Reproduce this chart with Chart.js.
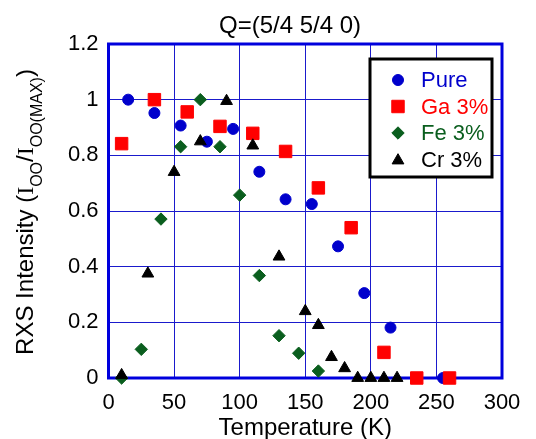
<!DOCTYPE html>
<html>
<head>
<meta charset="utf-8">
<script src="https://cdn.jsdelivr.net/npm/chart.js@4.4.1/dist/chart.umd.min.js"></script>
<style>
  html, body { margin: 0; padding: 0; background: #fff; }
  #wrap { width: 536px; height: 439px; }
</style>
</head>
<body>
<div id="wrap"><canvas id="rxs" width="536" height="439"></canvas></div>
<script>
// temperatures (K) and normalised RXS intensity
const pureT = [15, 35, 55, 75, 95, 115, 135, 155, 175, 195, 215, 255];
const pureI = [1.0, 0.952, 0.907, 0.849, 0.895, 0.741, 0.642, 0.625, 0.473, 0.305, 0.181, 0.0];

const gaT = [10, 35, 60, 85, 110, 135, 160, 185, 210, 235, 260];
const gaI = [0.842, 1.0, 0.956, 0.904, 0.879, 0.814, 0.683, 0.540, 0.092, 0.0, 0.0];

const feT = [10, 25, 40, 55, 70, 85, 100, 115, 130, 145, 160];
const feI = [0.0, 0.103, 0.571, 0.831, 1.0, 0.831, 0.657, 0.368, 0.152, 0.089, 0.025];

const crT = [10, 30, 50, 70, 90, 110, 130, 150, 160, 170, 180, 190, 200, 210, 220];
const crI = [0.01, 0.375, 0.74, 0.85, 0.995, 0.835, 0.436, 0.24, 0.19, 0.075, 0.035, 0.0, 0.0, 0.0, 0.0];

const xTicks = [0, 50, 100, 150, 200, 250, 300];
const yTicks = [0, 0.2, 0.4, 0.6, 0.8, 1, 1.2];

const FONT = "'Liberation Sans', Arial, sans-serif";
const BLUE = '#0000cc';
const RED = '#ff0000';
const GREEN = '#0a5e1e';
const BLACK = '#000000';

function pts(xs, ys) {
    return xs.map((x, i) => ({ x: x, y: ys[i] }));
}

// legend entries (drawn inside the plot, top right)
const legendItems = [
    { label: 'Pure',  color: BLUE,  style: 'circle',   r: 5.5 },
    { label: 'Ga 3%', color: RED,   style: 'rect',     r: 8.8 },
    { label: 'Fe 3%', color: GREEN, style: 'rectRot',  r: 6.2 },
    { label: 'Cr 3%', color: BLACK, style: 'triangle', r: 6.8 }
];

const decorations = {
    id: 'decorations',
    beforeDatasetsDraw(chart) {
        const ctx = chart.ctx;
        const a = chart.chartArea;
        ctx.save();
        ctx.strokeStyle = '#0000dd';
        ctx.lineWidth = 3;
        ctx.strokeRect(a.left, a.top, a.right - a.left, a.bottom - a.top);
        ctx.restore();
    },
    afterDraw(chart) {
        const ctx = chart.ctx;
        const a = chart.chartArea;
        ctx.save();

        // title
        ctx.fillStyle = '#000';
        ctx.font = '24px ' + FONT;
        ctx.textAlign = 'center';
        ctx.textBaseline = 'alphabetic';
        ctx.fillText('Q=(5/4 5/4 0)', 290, 33);

        // x axis title
        ctx.fillText('Temperature (K)', (a.left + a.right) / 2, 435);

        // y axis title with subscripts
        const segs = [
            { t: 'RXS Intensity (', f: '24px ' + FONT, dy: 0 },
            { t: 'I', f: '24px "Liberation Serif", serif', dy: 0 },
            { t: 'OO', f: '16px ' + FONT, dy: 9 },
            { t: '/', f: '24px ' + FONT, dy: 0 },
            { t: 'I', f: '24px "Liberation Serif", serif', dy: 0 },
            { t: 'OO(MAX)', f: '16px ' + FONT, dy: 9 },
            { t: ')', f: '24px ' + FONT, dy: 0 }
        ];
        let total = 0;
        segs.forEach(s => { ctx.font = s.f; s.w = ctx.measureText(s.t).width; total += s.w; });
        ctx.translate(33, 212);
        ctx.rotate(-Math.PI / 2);
        ctx.textAlign = 'left';
        let cx = -total / 2;
        segs.forEach(s => {
            ctx.font = s.f;
            ctx.fillText(s.t, cx, s.dy);
            cx += s.w;
        });
        ctx.restore();

        // legend box
        ctx.save();
        ctx.fillStyle = '#fff';
        ctx.fillRect(370, 59, 122, 118);
        ctx.strokeStyle = '#000';
        ctx.lineWidth = 3;
        ctx.strokeRect(370, 59, 122, 118);
        ctx.font = '22px ' + FONT;
        ctx.textAlign = 'left';
        ctx.textBaseline = 'middle';
        legendItems.forEach((it, i) => {
            const y = 80 + i * 26.5;
            ctx.fillStyle = it.color;
            ctx.strokeStyle = it.color;
            ctx.lineWidth = 1;
            Chart.helpers.drawPoint(ctx, { pointStyle: it.style, radius: it.r, rotation: 0, borderWidth: 1 }, 398, y + (it.style === 'triangle' ? 1 : 0));
            ctx.fillStyle = it.color;
            ctx.fillText(it.label, 421, y + 1);
        });
        ctx.restore();
    }
};

function ds(label, xs, ys, color, style, r, order) {
    return {
        label: label,
        data: pts(xs, ys),
        pointStyle: style,
        pointRadius: r,
        pointHoverRadius: r,
        backgroundColor: color,
        borderColor: color,
        borderWidth: 1,
        showLine: false,
        clip: false,
        order: order
    };
}

new Chart(document.getElementById('rxs'), {
    type: 'scatter',
    data: {
        datasets: [
            ds('Pure', pureT, pureI, BLUE, 'circle', 5.5, 4),
            ds('Ga 3%', gaT, gaI, RED, 'rect', 8.8, 3),
            ds('Fe 3%', feT, feI, GREEN, 'rectRot', 6.2, 2),
            ds('Cr 3%', crT, crI, BLACK, 'triangle', 6.8, 1)
        ]
    },
    options: {
        responsive: false,
        animation: false,
        devicePixelRatio: 1,
        layout: { padding: { left: 0, top: 44, right: 34, bottom: 0 } },
        plugins: {
            legend: { display: false },
            tooltip: { enabled: false },
            title: { display: false }
        },
        scales: {
            x: {
                type: 'linear',
                min: 0,
                max: 300,
                afterBuildTicks: s => { s.ticks = xTicks.map(v => ({ value: v })); },
                afterFit: s => { s.height = 61; },
                ticks: { color: '#000', font: { family: FONT, size: 22 }, padding: 12, maxRotation: 0 },
                grid: { color: '#1a1acc', lineWidth: 1, drawTicks: false },
                border: { display: false }
            },
            y: {
                type: 'linear',
                min: 0,
                max: 1.2,
                afterBuildTicks: s => { s.ticks = yTicks.map(v => ({ value: v })); },
                afterFit: s => { s.width = 108.5; },
                ticks: {
                    color: '#000',
                    font: { family: FONT, size: 22 },
                    padding: 10,
                    callback: v => String(+v.toFixed(1))
                },
                grid: { color: '#1a1acc', lineWidth: 1, drawTicks: false },
                border: { display: false }
            }
        }
    },
    plugins: [decorations]
});
</script>
</body>
</html>
